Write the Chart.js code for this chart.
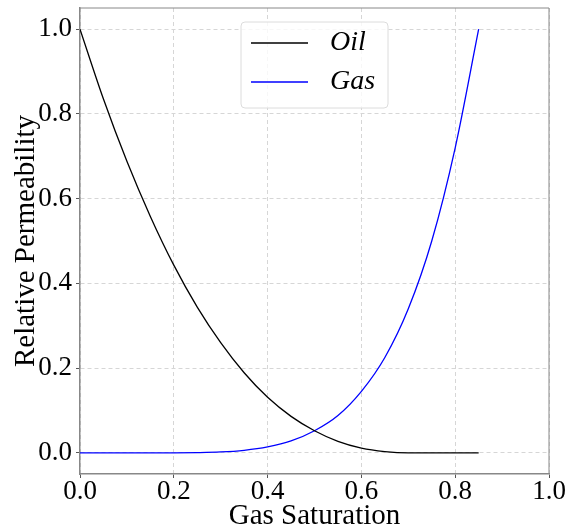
<!DOCTYPE html>
<html>
<head>
<meta charset="utf-8">
<script src="https://cdn.jsdelivr.net/npm/chart.js@4/dist/chart.umd.min.js"></script>
<style>
  html, body { margin: 0; padding: 0; background: #fff; }
  #wrap { width: 565px; height: 531px; }
</style>
</head>
<body>
<div id="wrap"><canvas id="kr"></canvas></div>
<script>
// gas saturation samples and relative permeability values
const sg    = [0.00, 0.05, 0.10, 0.15, 0.20, 0.25, 0.30, 0.35, 0.40, 0.45, 0.50, 0.55, 0.60, 0.65, 0.70, 0.75, 0.80, 0.85];
const krOil = [1.000, 0.835, 0.688, 0.558, 0.443, 0.344, 0.260, 0.189, 0.131, 0.086, 0.052, 0.027, 0.011, 0.003, 0.000, 0.000, 0.000, 0.000];
const krGas = [0.000, 0.000, 0.000, 0.000, 0.000, 0.0005, 0.002, 0.006, 0.014, 0.028, 0.052, 0.088, 0.145, 0.225, 0.340, 0.500, 0.720, 1.000];
const labels = ['Oil', 'Gas'];
const colors = ['#000000', '#0000ff'];
const xTicks = [0, 0.2, 0.4, 0.6, 0.8, 1.0];
const yTicks = [0, 0.2, 0.4, 0.6, 0.8, 1.0];

const serif = "'Liberation Serif', 'DejaVu Serif', serif";
const toPts = ys => sg.map((x, i) => ({ x: x, y: ys[i] }));

// matplotlib-style legend box inside the plot, upper center
const boxLegend = {
  id: 'boxLegend',
  afterDatasetsDraw(chart) {
    const ctx = chart.ctx;
    const area = chart.chartArea;
    const w = 147, h = 86;
    const left = (area.left + area.right) / 2 - w / 2;
    const top = area.top + 14;
    ctx.save();
    ctx.beginPath();
    ctx.roundRect(left, top, w, h, 4);
    ctx.fillStyle = 'rgba(255,255,255,0.8)';
    ctx.fill();
    ctx.strokeStyle = '#dcdcdc';
    ctx.lineWidth = 1;
    ctx.stroke();
    ctx.font = 'italic 28px ' + serif;
    ctx.textBaseline = 'middle';
    chart.data.datasets.forEach((ds, i) => {
      const y = top + 21 + i * 39;
      ctx.beginPath();
      ctx.moveTo(left + 10, y);
      ctx.lineTo(left + 67, y);
      ctx.strokeStyle = ds.borderColor;
      ctx.lineWidth = 1.3;
      ctx.stroke();
      ctx.fillStyle = '#000';
      ctx.fillText(ds.label, left + 89, y);
    });
    ctx.restore();
  }
};

const gridOpts = {
  color: '#d6d6d6',
  lineWidth: 1,
  tickColor: '#555',
  tickLength: 4,
  tickWidth: 1
};

new Chart(document.getElementById('kr'), {
  type: 'line',
  data: {
    datasets: [
      { label: labels[0], data: toPts(krOil), borderColor: colors[0] },
      { label: labels[1], data: toPts(krGas), borderColor: colors[1] }
    ]
  },
  options: {
    responsive: true,
    maintainAspectRatio: false,
    animation: false,
    layout: { padding: { top: 8, right: 16, left: 0, bottom: 0 } },
    elements: {
      point: { radius: 0 },
      line: { borderWidth: 1.3, cubicInterpolationMode: 'monotone', fill: false }
    },
    plugins: { legend: { display: false }, tooltip: { enabled: false } },
    scales: {
      x: {
        type: 'linear',
        min: 0, max: 1,
        afterBuildTicks: s => { s.ticks = xTicks.map(v => ({ value: v })); },
        afterFit: s => { s.height = 57; s.paddingLeft = 0; s.paddingRight = 0; },
        grid: gridOpts,
        border: { display: true, color: '#888', width: 1.5, dash: [4, 3] },
        ticks: { color: '#000', padding: -2, maxRotation: 0, font: { family: serif, size: 27 },
                 callback: v => Number(v).toFixed(1) },
        title: { display: true, text: 'Gas Saturation', color: '#000',
                 font: { family: serif, size: 29, lineHeight: 1 }, padding: { top: 0, bottom: 0 } }
      },
      y: {
        min: -0.05, max: 1.05,
        afterBuildTicks: s => { s.ticks = yTicks.map(v => ({ value: v })); },
        afterFit: s => { s.width = 80; s.paddingTop = 0; s.paddingBottom = 0; },
        grid: gridOpts,
        border: { display: true, color: '#888', width: 1.5, dash: [4, 3] },
        ticks: { color: '#000', padding: 4, font: { family: serif, size: 27 },
                 callback: v => Number(v).toFixed(1) },
        title: { display: true, text: 'Relative Permeability', color: '#000',
                 font: { family: serif, size: 29, lineHeight: 1 }, padding: { top: 12, bottom: 0 } }
      }
    }
  },
  plugins: [boxLegend, {
    // top and right spines
    id: 'frame',
    beforeDatasetsDraw(chart) {
      const { ctx, chartArea: a } = chart;
      ctx.save();
      ctx.strokeStyle = '#888';
      ctx.lineWidth = 1;
      ctx.beginPath();
      ctx.moveTo(a.left, a.top);
      ctx.lineTo(a.right, a.top);
      ctx.lineTo(a.right, a.bottom);
      ctx.stroke();
      ctx.restore();
    }
  }]
});
</script>
</body>
</html>
